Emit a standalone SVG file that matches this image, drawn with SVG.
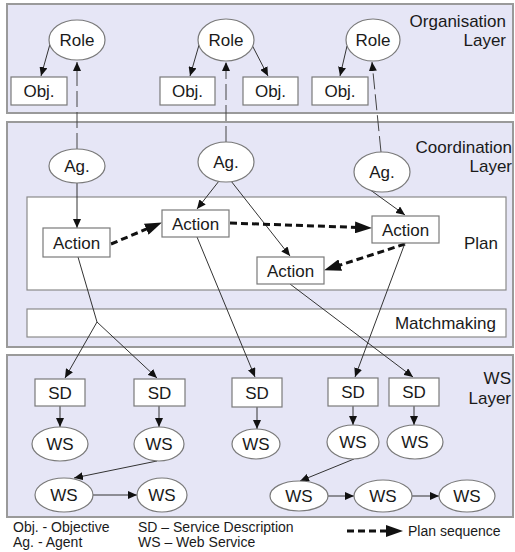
<svg xmlns="http://www.w3.org/2000/svg" width="515" height="552" viewBox="0 0 515 552">
  <style>
    text { font-family: "Liberation Sans", Arial, Helvetica, sans-serif; fill: #1a1a1a; }
    .lbl { font-size: 17px; text-anchor: middle; }
    .side { font-size: 17px; text-anchor: end; }
    .leg { font-size: 14px; }
    .layer { fill: #e6e6f6; stroke: #9a9a9a; stroke-width: 2; }
    .panel { fill: #ffffff; stroke: #8a8a8a; stroke-width: 1.2; }
    .box { fill: #ffffff; stroke: #7a7a7a; stroke-width: 1.2; }
    .oval { fill: #ffffff; stroke: #7a7a7a; stroke-width: 1.2; }
    .link { fill: none; stroke: #333333; stroke-width: 1; }
    .arrow { fill: none; stroke: #333333; stroke-width: 1; marker-end: url(#head); }
    .up { fill: none; stroke: #444444; stroke-width: 1; stroke-dasharray: 16 5; marker-end: url(#head); }
    .seq { fill: none; stroke: #111111; stroke-width: 3; stroke-dasharray: 7 4; marker-end: url(#bighead); }
  </style>
  <defs>
    <marker id="head" viewBox="0 0 9 8" refX="9" refY="4" markerWidth="9" markerHeight="8" markerUnits="userSpaceOnUse" orient="auto">
      <path d="M0,0 L9,4 L0,8 z" fill="#111111"/>
    </marker>
    <marker id="bighead" viewBox="0 0 17 12" refX="3" refY="6" markerWidth="17" markerHeight="12" markerUnits="userSpaceOnUse" orient="auto">
      <path d="M0,0 L17,6 L0,12 z" fill="#111111"/>
    </marker>
  </defs>

  <!-- layers -->
  <g id="organisation-layer">
    <rect class="layer" x="7" y="4" width="506" height="109"/>
    <text class="side" x="506" y="27">Organisation</text>
    <text class="side" x="506" y="46">Layer</text>
  </g>
  <g id="coordination-layer">
    <rect class="layer" x="7" y="122" width="506" height="225"/>
    <text class="side" x="512" y="153">Coordination</text>
    <text class="side" x="512" y="172">Layer</text>
  </g>
  <g id="plan">
    <rect class="panel" x="27" y="197" width="479" height="93"/>
    <text class="side" x="498" y="249">Plan</text>
  </g>
  <g id="matchmaking">
    <rect class="panel" x="27" y="309" width="479" height="28"/>
    <text class="side" x="496" y="329">Matchmaking</text>
  </g>
  <g id="ws-layer">
    <rect class="layer" x="7" y="355" width="506" height="162"/>
    <text class="side" x="511" y="384">WS</text>
    <text class="side" x="511" y="404">Layer</text>
  </g>

  <!-- connectors -->
  <g id="connectors">
    <!-- roles to objectives -->
    <path class="arrow" d="M50,44 L41,76"/>
    <path class="arrow" d="M199,45 L190,76"/>
    <path class="arrow" d="M252,45 L268,76"/>
    <path class="arrow" d="M347,46 L340,76"/>
    <!-- agents enact roles -->
    <path class="up" d="M77,149 L77,62"/>
    <path class="up" d="M226,142 L226,62"/>
    <path class="up" d="M381,152 L372,62"/>
    <!-- agents to actions -->
    <path class="arrow" d="M77,183 L77,228"/>
    <path class="arrow" d="M219,181 L197,209"/>
    <path class="arrow" d="M231,181 L290,256"/>
    <path class="arrow" d="M369,189 L405,215"/>
    <!-- plan sequence -->
    <path class="seq" d="M111,244 L149,228"/>
    <path class="seq" d="M230,223 L358,227.5"/>
    <path class="seq" d="M405,244 L337.4,266"/>
    <!-- actions to service descriptions -->
    <path class="link" d="M78,257 L97,322"/>
    <path class="arrow" d="M97,322 L65,378"/>
    <path class="arrow" d="M97,322 L157,378"/>
    <path class="arrow" d="M197,237 L255,377"/>
    <path class="arrow" d="M405,243 L355,377"/>
    <path class="arrow" d="M290,284 L413,377"/>
    <!-- service descriptions to web services -->
    <path class="arrow" d="M60,406 L60,427"/>
    <path class="arrow" d="M159,406 L159,427"/>
    <path class="arrow" d="M257,407 L257,429"/>
    <path class="arrow" d="M353,406 L353,425"/>
    <path class="arrow" d="M414,406 L414,425"/>
    <!-- web service compositions -->
    <path class="arrow" d="M157,461 L74,478"/>
    <path class="arrow" d="M93,495 L137,495"/>
    <path class="arrow" d="M354,459 L300,481"/>
    <path class="arrow" d="M328,496 L354,496"/>
    <path class="arrow" d="M412,496 L439,496"/>
  </g>

  <!-- organisation layer nodes -->
  <g id="role-1"><ellipse class="oval" cx="77" cy="40" rx="28" ry="20"/><text class="lbl" x="77" y="46">Role</text></g>
  <g id="role-2"><ellipse class="oval" cx="226" cy="40" rx="28" ry="21"/><text class="lbl" x="226" y="46">Role</text></g>
  <g id="role-3"><ellipse class="oval" cx="373" cy="40" rx="27" ry="21"/><text class="lbl" x="373" y="46">Role</text></g>
  <g id="obj-1"><rect class="box" x="11" y="77" width="56" height="28"/><text class="lbl" x="39" y="97">Obj.</text></g>
  <g id="obj-2"><rect class="box" x="160" y="77" width="55" height="28"/><text class="lbl" x="187.5" y="97">Obj.</text></g>
  <g id="obj-3"><rect class="box" x="243" y="77" width="55" height="28"/><text class="lbl" x="270.5" y="97">Obj.</text></g>
  <g id="obj-4"><rect class="box" x="312" y="77" width="56" height="28"/><text class="lbl" x="340" y="97">Obj.</text></g>

  <!-- coordination layer nodes -->
  <g id="agent-1"><ellipse class="oval" cx="77" cy="166" rx="28" ry="17"/><text class="lbl" x="77" y="172">Ag.</text></g>
  <g id="agent-2"><ellipse class="oval" cx="226" cy="162" rx="28" ry="20"/><text class="lbl" x="226" y="168">Ag.</text></g>
  <g id="agent-3"><ellipse class="oval" cx="382" cy="172" rx="28" ry="20"/><text class="lbl" x="382" y="178">Ag.</text></g>
  <g id="action-1"><rect class="box" x="43" y="228" width="67" height="29"/><text class="lbl" x="76.5" y="248.5">Action</text></g>
  <g id="action-2"><rect class="box" x="162" y="210" width="67" height="27"/><text class="lbl" x="195.5" y="229.5">Action</text></g>
  <g id="action-3"><rect class="box" x="372" y="216" width="67" height="27"/><text class="lbl" x="405.5" y="235.5">Action</text></g>
  <g id="action-4"><rect class="box" x="257" y="257" width="67" height="27"/><text class="lbl" x="290.5" y="276.5">Action</text></g>

  <!-- web service layer nodes -->
  <g id="sd-1"><rect class="box" x="35" y="379" width="50" height="27"/><text class="lbl" x="60" y="398.5">SD</text></g>
  <g id="sd-2"><rect class="box" x="134" y="379" width="51" height="27"/><text class="lbl" x="159.5" y="398.5">SD</text></g>
  <g id="sd-3"><rect class="box" x="232" y="378" width="50" height="29"/><text class="lbl" x="257" y="398.5">SD</text></g>
  <g id="sd-4"><rect class="box" x="328" y="378" width="50" height="28"/><text class="lbl" x="353" y="398">SD</text></g>
  <g id="sd-5"><rect class="box" x="389" y="378" width="50" height="28"/><text class="lbl" x="414" y="398">SD</text></g>
  <g id="ws-1"><ellipse class="oval" cx="60" cy="444" rx="28" ry="17"/><text class="lbl" x="60" y="450">WS</text></g>
  <g id="ws-2"><ellipse class="oval" cx="159" cy="444" rx="25" ry="17"/><text class="lbl" x="159" y="450">WS</text></g>
  <g id="ws-3"><ellipse class="oval" cx="256" cy="444" rx="24" ry="15"/><text class="lbl" x="256" y="450">WS</text></g>
  <g id="ws-4"><ellipse class="oval" cx="353" cy="442" rx="26" ry="17"/><text class="lbl" x="353" y="448">WS</text></g>
  <g id="ws-5"><ellipse class="oval" cx="415" cy="442" rx="28" ry="17"/><text class="lbl" x="415" y="448">WS</text></g>
  <g id="ws-6"><ellipse class="oval" cx="64" cy="495" rx="29" ry="17"/><text class="lbl" x="64" y="501">WS</text></g>
  <g id="ws-7"><ellipse class="oval" cx="162" cy="495" rx="25" ry="17"/><text class="lbl" x="162" y="501">WS</text></g>
  <g id="ws-8"><ellipse class="oval" cx="299" cy="496" rx="29" ry="15"/><text class="lbl" x="299" y="502">WS</text></g>
  <g id="ws-9"><ellipse class="oval" cx="383" cy="496" rx="29" ry="16"/><text class="lbl" x="383" y="502">WS</text></g>
  <g id="ws-10"><ellipse class="oval" cx="467" cy="496" rx="28" ry="16"/><text class="lbl" x="467" y="502">WS</text></g>

  <!-- legend -->
  <g id="legend">
    <text class="leg" x="13" y="532">Obj. - Objective</text>
    <text class="leg" x="13" y="547">Ag. - Agent</text>
    <text class="leg" x="138" y="532">SD – Service Description</text>
    <text class="leg" x="138" y="547">WS – Web Service</text>
    <path class="seq" d="M347,531 L389,531"/>
    <text class="leg" x="408" y="536">Plan sequence</text>
  </g>
</svg>
